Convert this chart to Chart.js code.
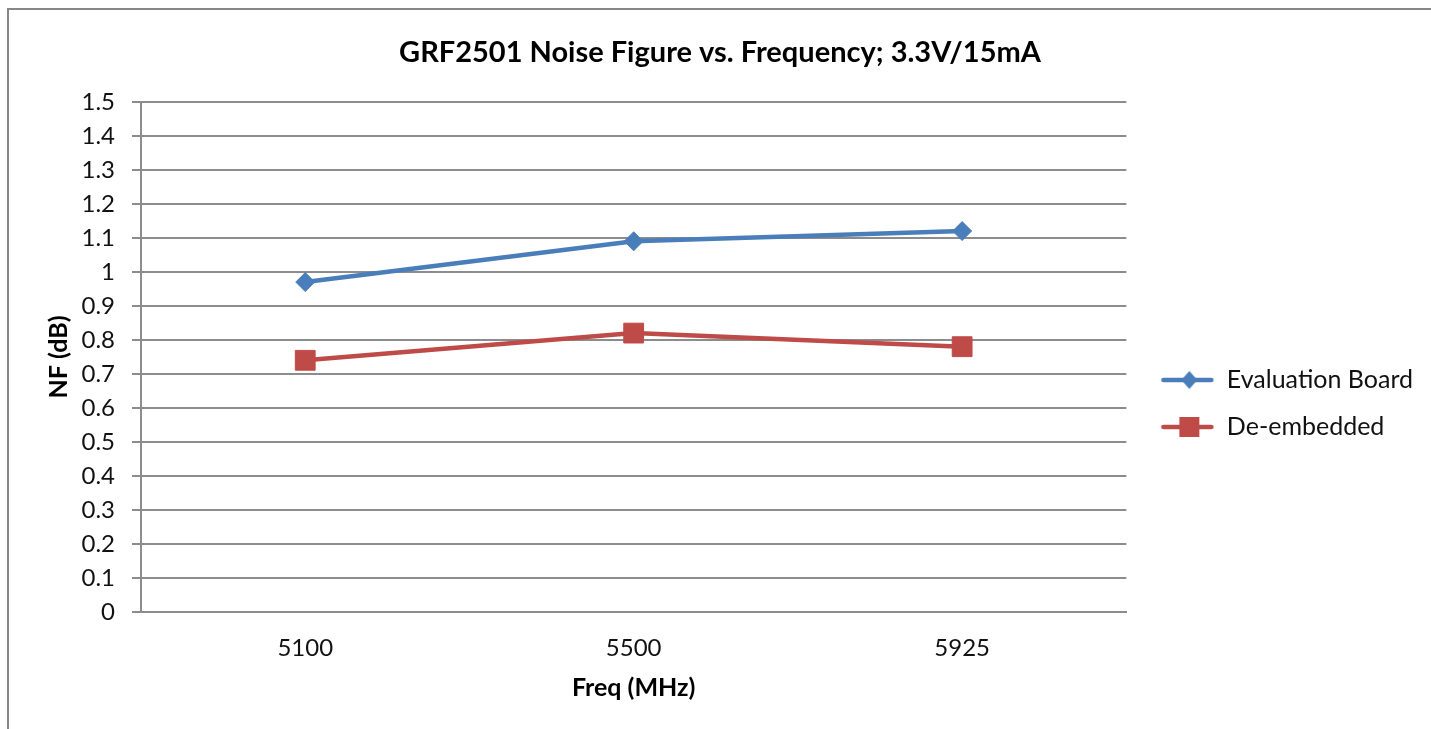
<!DOCTYPE html>
<html lang="en">
  <head>
    <meta charset="UTF-8" />
    <title>GRF2501 Noise Figure vs. Frequency</title>
    <script src="https://cdn.jsdelivr.net/npm/chart.js"></script>
    <style>
      html,
      body {
        margin: 0;
        padding: 0;
        background: #ffffff;
        overflow: hidden;
      }
      #nfChart {
        position: absolute;
        left: 0;
        top: 0;
      }
      /* chart frame, only left and top edges are in view */
      .frame {
        position: absolute;
        left: 7px;
        top: 8px;
        width: 1500px;
        height: 800px;
        border: 2px solid #878787;
        pointer-events: none;
      }
    </style>
  </head>
  <body>
    <canvas id="nfChart" width="1431" height="729"></canvas>
    <div class="frame"></div>

    <script>
      // Data
      var freqLabels = ["5100", "5500", "5925"];
      var evalBoardNF = [0.97, 1.09, 1.12];
      var deEmbeddedNF = [0.74, 0.82, 0.78];
      var seriesNames = ["Evaluation Board", "De-embedded"];
      var yTicks = [0, 0.1, 0.2, 0.3, 0.4, 0.5, 0.6, 0.7, 0.8, 0.9, 1, 1.1, 1.2, 1.3, 1.4, 1.5];

      var blue = "#4a7ebb";
      var red = "#be4b48";
      var gridColor = "#8c8c8c";
      var textColor = "#111";
      var fontFamily = "Lato, 'Open Sans', sans-serif";
      var legendSize = 25;
      var iconW = 66;

      // legend icon: short line with the marker on it
      function makeIcon(color, shape) {
        var c = document.createElement("canvas");
        c.width = iconW;
        c.height = 24;
        var g = c.getContext("2d");
        g.strokeStyle = color;
        g.fillStyle = color;
        g.lineWidth = 4.5;
        g.lineCap = "round";
        g.beginPath();
        g.moveTo(15, 12);
        g.lineTo(iconW - 3, 12);
        g.stroke();
        var cx = 41;
        if (shape === "diamond") {
          g.beginPath();
          g.moveTo(cx, 3);
          g.lineTo(cx + 8, 12);
          g.lineTo(cx, 21);
          g.lineTo(cx - 8, 12);
          g.closePath();
          g.fill();
        } else {
          g.fillRect(cx - 10, 2, 20, 20);
        }
        return c;
      }
      var legendIcons = [makeIcon(blue, "diamond"), makeIcon(red, "square")];

      // size the right padding so the plot ends where the reference does
      var m = document.createElement("canvas").getContext("2d");
      m.font = legendSize + "px " + fontFamily;
      var textW = Math.max.apply(null, seriesNames.map(function (n) { return m.measureText(n).width; }));
      var padR = Math.max(0, Math.round(194 - textW));
      var padL = 9 + padR;

      var ctx = document.getElementById("nfChart").getContext("2d");
      var nfChart = new Chart(ctx, {
        type: "line",
        data: {
          labels: freqLabels,
          datasets: [
            {
              label: seriesNames[0],
              data: evalBoardNF,
              borderColor: blue,
              backgroundColor: blue,
              borderWidth: 4.5,
              pointStyle: "rectRot",
              pointRadius: 9.5,
              pointBorderWidth: 1,
              tension: 0,
            },
            {
              label: seriesNames[1],
              data: deEmbeddedNF,
              borderColor: red,
              backgroundColor: red,
              borderWidth: 4.5,
              pointStyle: "rect",
              pointRadius: 14,
              pointBorderWidth: 1,
              tension: 0,
            },
          ],
        },
        options: {
          responsive: false,
          animation: false,
          layout: {
            padding: { left: padL, right: padR, top: 0, bottom: 0 },
          },
          plugins: {
            title: {
              display: true,
              text: "GRF2501 Noise Figure vs. Frequency; 3.3V/15mA",
              color: "#000",
              font: { family: fontFamily, size: 29, weight: "bold" },
              padding: { top: 35, bottom: 32 },
            },
            legend: {
              position: "right",
              title: {
                display: true,
                text: "",
                font: { size: 10, lineHeight: 1 },
                padding: { top: 68, bottom: 0 },
              },
              labels: {
                usePointStyle: true,
                pointStyleWidth: iconW,
                padding: 22,
                color: textColor,
                font: { family: fontFamily, size: legendSize },
                generateLabels: function (chart) {
                  var items = Chart.defaults.plugins.legend.labels.generateLabels(chart);
                  items.forEach(function (it, i) {
                    it.pointStyle = legendIcons[i];
                  });
                  return items;
                },
              },
            },
            tooltip: { enabled: false },
          },
          scales: {
            x: {
              offset: true,
              grid: { display: false },
              border: { display: true, color: gridColor, width: 2 },
              ticks: {
                color: textColor,
                padding: 14,
                font: { family: fontFamily, size: 24 },
              },
              title: {
                display: true,
                text: "Freq (MHz)",
                color: "#000",
                font: { family: fontFamily, size: 25, weight: "bold" },
                padding: { top: 0, bottom: 26 },
              },
              afterFit: function (scale) {
                scale.height = 729 - 612;
              },
            },
            y: {
              min: 0,
              max: 1.5,
              afterBuildTicks: function (scale) {
                scale.ticks = yTicks.map(function (v) { return { value: v }; });
              },
              grid: {
                color: gridColor,
                lineWidth: 2,
                tickLength: 9,
              },
              border: { display: true, color: gridColor, width: 2 },
              ticks: {
                color: textColor,
                padding: 17,
                font: { family: fontFamily, size: 24 },
                callback: function (v) {
                  return String(Number(v.toFixed(1)));
                },
              },
              title: {
                display: true,
                text: "NF (dB)",
                color: "#000",
                font: { family: fontFamily, size: 25, weight: "bold" },
                padding: { top: 59 - padL - 15, bottom: 0 },
              },
              afterFit: function (scale) {
                scale.width = 141 - padL;
              },
            },
          },
        },
      });
    </script>
  </body>
</html>
